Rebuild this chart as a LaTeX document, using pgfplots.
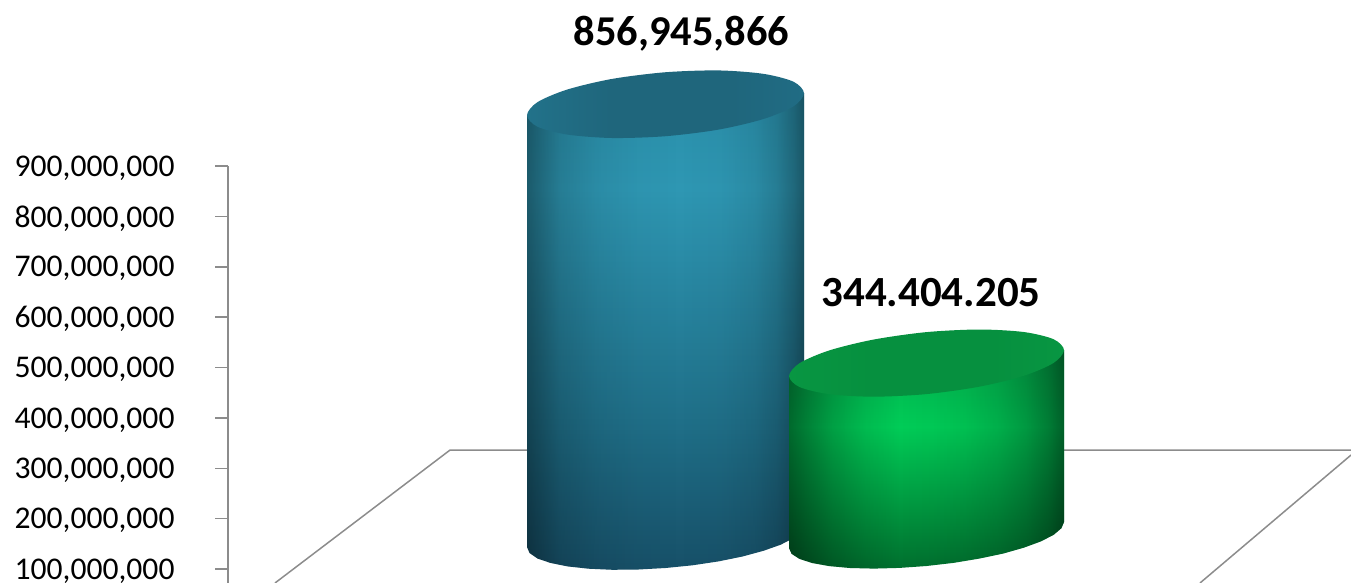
\documentclass[border=0pt]{standalone}
\usepackage{pgfplots}
\usepackage{pgfplotstable}
\pgfplotsset{compat=1.18}
\usepackage{fontspec}
\setmainfont{Carlito}

\definecolor{axisgrey}{HTML}{8C8C8C}
\definecolor{bA}{HTML}{2A8FAA}\definecolor{bB}{HTML}{2E97B3}
\definecolor{bC}{HTML}{1F6E87}\definecolor{bD}{HTML}{175068}
\definecolor{gA}{HTML}{04B04E}\definecolor{gB}{HTML}{00CC57}
\definecolor{gC}{HTML}{006F2E}
\definecolor{bt1}{HTML}{22728A}\definecolor{bt2}{HTML}{1F667C}\definecolor{bt3}{HTML}{206C84}
\definecolor{gt1}{HTML}{089642}\definecolor{gt2}{HTML}{06903F}

% a path's bounding box takes the 25bp..75bp part of a shading
\pgfdeclareverticalshading{blueV}{100bp}{
  color(0bp)=(bD); color(25bp)=(bD); color(40bp)=(bC); color(65bp)=(bB); color(75bp)=(bA); color(100bp)=(bA)}
\pgfdeclarehorizontalshading{blueH}{100bp}{
  color(0bp)=(white!60!black); color(25bp)=(white!60!black); color(28bp)=(white!72!black); color(31bp)=(white!83!black);
  color(38bp)=(white!93!black); color(45bp)=(white!98!black); color(52.5bp)=(white); color(60bp)=(white!98!black);
  color(66bp)=(white!92!black); color(70bp)=(white!83!black); color(73bp)=(white!70!black); color(75bp)=(white!58!black);
  color(100bp)=(white!58!black)}
\pgfdeclareverticalshading{greenV}{100bp}{
  color(0bp)=(gC); color(25bp)=(gC); color(57.5bp)=(gB); color(75bp)=(gA); color(100bp)=(gA)}
\pgfdeclarehorizontalshading{greenH}{100bp}{
  color(0bp)=(white!52!black); color(25bp)=(white!52!black); color(29bp)=(white!66!black); color(33bp)=(white!79!black);
  color(39bp)=(white!92!black); color(45bp)=(white); color(51bp)=(white!98!black); color(57bp)=(white!94!black);
  color(63bp)=(white!86!black); color(68bp)=(white!75!black); color(72bp)=(white!62!black); color(75bp)=(white!47!black);
  color(100bp)=(white!47!black)}
\pgfdeclarehorizontalshading{blueT}{100bp}{
  color(0bp)=(bt1); color(25bp)=(bt1); color(40bp)=(bt2); color(62bp)=(bt2); color(75bp)=(bt3); color(100bp)=(bt3)}
\pgfdeclarehorizontalshading{greenT}{100bp}{
  color(0bp)=(gt1); color(25bp)=(gt1); color(40bp)=(gt2); color(62bp)=(gt2); color(75bp)=(gt1); color(100bp)=(gt1)}

% outlines traced in picture pixels, y counted from the top
\pgfplotstableread{
x y
804 93
804 525
801.4 531.4
793.5 538.1
780.6 544.7
763.4 550.8
742.5 556.5
718.5 561.4
692.5 565.3
665.5 568
638.5 569.5
612.5 569.8
588.5 568.7
567.6 566.4
550.4 562.9
537.5 558.5
529.6 553
527 547
527 115
}\bluebody
\pgfplotstableread{
x y
1064 350
1064 522
1061.4 528.2
1053.5 534.9
1040.8 541.4
1023.7 547.7
1003 553.6
979.2 558.6
953.3 562.9
926.5 566
899.7 567.9
873.8 568.6
850 568
829.3 566.1
812.2 563
799.5 558.9
791.6 553.8
789 548
789 376
}\greenbody

\begin{document}
\begin{tikzpicture}[x=1pt,y=1pt]
\useasboundingbox (0,0) rectangle (1351,583);
\begin{axis}[
    at={(228pt,0pt)},
    anchor=south west,
    scale only axis,
    width=1123pt,
    height=417pt,
    xmin=228, xmax=1351,
    ymin=72222222, ymax=900000000,
    axis y line=left,
    axis x line=none,
    axis line style={axisgrey,line width=1.5pt,-},
    ytick={100000000,200000000,300000000,400000000,500000000,600000000,700000000,800000000,900000000},
    scaled y ticks=false,
    tick align=outside,
    tick style={axisgrey,line width=1.5pt},
    major tick length=13pt,
    yticklabel style={/pgf/number format/fixed,/pgf/number format/1000 sep={,},/pgf/number format/assume math mode=true,
      font=\fontsize{31.6}{36}\selectfont,text=black,xshift=-37pt,yshift=-2pt},
    clip=false,
    y filter/.expression={(569-y)/50.4*100000000+100000000},
]

% floor
\addplot[axisgrey,line width=1.5pt] coordinates {(275,583) (450,450) (1351,450)};
\addplot[axisgrey,line width=1.5pt] coordinates {(1200,583) (1351,455)};

% blue cylinder: vertical shade, then side darkening multiplied over it
\addplot[shade,shading=blueV,draw=none] table {\bluebody} -- cycle;
\addplot[shade,shading=blueH,draw=none,blend mode=multiply] table {\bluebody} -- cycle;
\addplot[shade,shading=blueT,draw=none,smooth cycle] coordinates {
  (804,93) (793.5,81.5) (763.4,73.6) (718.5,70.2) (665.5,72) (612.5,78.6) (567.6,89.2) (537.5,101.9)
  (527,115) (537.5,126.5) (567.6,134.4) (612.5,137.8) (665.5,136) (718.5,129.4) (763.4,118.8) (793.5,106.1)
};

% green cylinder, same way
\addplot[shade,shading=greenV,draw=none] table {\greenbody} -- cycle;
\addplot[shade,shading=greenH,draw=none,blend mode=multiply] table {\greenbody} -- cycle;
\addplot[shade,shading=greenT,draw=none,smooth cycle] coordinates {
  (1064,350) (1053.5,339.1) (1023.7,331.9) (979.2,329.4) (926.5,332) (873.8,339.4) (829.3,350.3) (799.5,363.1)
  (789,376) (799.5,386.9) (829.3,394.1) (873.8,396.6) (926.5,394) (979.2,386.6) (1023.7,375.7) (1053.5,362.9)
};

% data labels
\addplot[only marks,mark=none,nodes near coords=\textbf{856,945,866},
  nodes near coords align={center},
  every node near coord/.append style={font=\fontsize{42.5}{48}\selectfont\bfseries,text=black}]
  coordinates {(681.5,33)};
\addplot[only marks,mark=none,nodes near coords=\textbf{344.404.205},
  nodes near coords align={center},
  every node near coord/.append style={font=\fontsize{43}{48}\selectfont\bfseries,text=black}]
  coordinates {(931,292)};
\end{axis}
\end{tikzpicture}
\end{document}
